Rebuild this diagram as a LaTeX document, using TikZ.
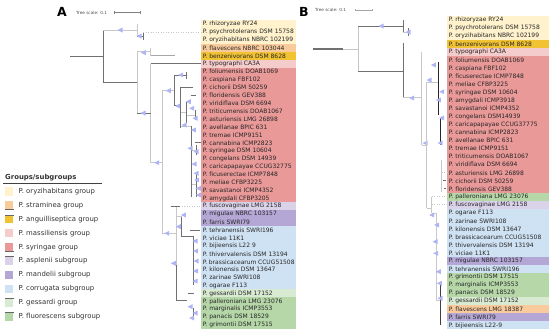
\documentclass[tikz,border=0pt]{standalone}
\usepackage{fontspec}
\setmainfont{DejaVu Sans}
\usepackage{tikz}
\usetikzlibrary{matrix,positioning}
\definecolor{grpory}{HTML}{FFF2CC}
\definecolor{grpstr}{HTML}{F9CB9C}
\definecolor{grpang}{HTML}{F1C232}
\definecolor{grpmas}{HTML}{F4CCCC}
\definecolor{grpsyr}{HTML}{EA9999}
\definecolor{grpasp}{HTML}{D9D2E9}
\definecolor{grpman}{HTML}{B4A7D6}
\definecolor{grpcor}{HTML}{CFE2F3}
\definecolor{grpges}{HTML}{D9EAD3}
\definecolor{grpflu}{HTML}{B6D7A8}
\definecolor{brdark}{HTML}{707070}
\definecolor{brlight}{HTML}{C8C8C8}
\definecolor{bootblue}{HTML}{AFB4F4}
\newcommand{\bootmark}[2]{\fill[boot] (#1,#2) ++(-2.5,0) -- ++(5,-2.5) -- ++(0,5) -- cycle;}

\begin{document}
\begin{tikzpicture}[x=1pt, y=-1pt,
  lab/.style={anchor=west, inner xsep=1.6pt, inner ysep=0pt,
              text=black!85, font=\fontsize{6.0}{6.5}\selectfont},
  labcol/.style n args={2}{lab, minimum height=#1,
                 execute at begin node=\hbox to #2\bgroup,
                 execute at end node=\hfil\egroup},
  legbox/.style={minimum width=8.3pt, minimum height=8.3pt, inner sep=0pt},
  legtext/.style={anchor=west, inner sep=0pt, text=black!80,
                  font=\fontsize{6.9}{8}\selectfont},
  legedge/.style={draw=black!60, line width=0.6pt},
  branch/.style={draw=brdark, line width=0.7pt},
  faint/.style={draw=brlight, line width=0.5pt},
  guide/.style={draw=brlight, line width=0.5pt, dotted},
  boot/.style={fill=bootblue},
  panel/.style={font=\fontsize{12.5}{14}\selectfont\bfseries, inner sep=0pt},
  scaletext/.style={anchor=west, inner sep=0pt, text=black!70,
                    font=\fontsize{4.2}{5}\selectfont},
  scalebar/.style={draw=black!50, line width=0.4pt},
]
  \useasboundingbox (0,0) rectangle (550,335);

  % Panel A: label column.
  \node[panel] (panel-a) at (62,12) {A};
  \node[scaletext] (scale-a) at (76,12.5) {Tree scale: 0.1};
  \draw[scalebar] (114,12.5) -- (140,12.5) (114,11) -- (114,14) (140,11) -- (140,14);
  \matrix (alabels) [matrix of nodes, nodes={labcol={7.92pt}{91.8pt}},
                     row sep=0pt, inner sep=0pt, anchor=north west] at (201,20) {
    |[fill=grpory]| P. rhizoryzae RY24 \\
    |[fill=grpory]| P. psychrotolerans DSM 15758 \\
    |[fill=grpory]| P. oryzihabitans NBRC 102199 \\
    |[fill=grpstr]| P. flavescens NBRC 103044 \\
    |[fill=grpang]| P. benzenivorans DSM 8628 \\
    |[fill=grpmas]| P. typographi CA3A \\
    |[fill=grpsyr]| P. foliumensis DOAB1069 \\
    |[fill=grpsyr]| P. caspiana FBF102 \\
    |[fill=grpsyr]| P. cichorii DSM 50259 \\
    |[fill=grpsyr]| P. floridensis GEV388 \\
    |[fill=grpsyr]| P. viridiflava DSM 6694 \\
    |[fill=grpsyr]| P. triticumensis DOAB1067 \\
    |[fill=grpsyr]| P. asturiensis LMG 26898 \\
    |[fill=grpsyr]| P. avellanae BPIC 631 \\
    |[fill=grpsyr]| P. tremae ICMP9151 \\
    |[fill=grpsyr]| P. cannabina ICMP2823 \\
    |[fill=grpsyr]| P. syringae DSM 10604 \\
    |[fill=grpsyr]| P. congelans DSM 14939 \\
    |[fill=grpsyr]| P. caricapapayae CCUG32775 \\
    |[fill=grpsyr]| P. ficuserectae ICMP7848 \\
    |[fill=grpsyr]| P. meliae CFBP3225 \\
    |[fill=grpsyr]| P. savastanoi ICMP4352 \\
    |[fill=grpsyr]| P. amygdali CFBP3205 \\
    |[fill=grpasp]| P. fuscovaginae LMG 2158 \\
    |[fill=grpman]| P. migulae NBRC 103157 \\
    |[fill=grpman]| P. farris SWRI79 \\
    |[fill=grpcor]| P. tehranensis SWRI196 \\
    |[fill=grpcor]| P. viciae 11K1 \\
    |[fill=grpcor]| P. bijieensis L22 9 \\
    |[fill=grpcor]| P. thivervalensis DSM 13194 \\
    |[fill=grpcor]| P. brassicacearum CCUG51508 \\
    |[fill=grpcor]| P. kilonensis DSM 13647 \\
    |[fill=grpcor]| P. zarinae SWRI108 \\
    |[fill=grpcor]| P. ogarae F113 \\
    |[fill=grpges]| P. gessardii DSM 17152 \\
    |[fill=grpflu]| P. palleroniana LMG 23076 \\
    |[fill=grpflu]| P. marginalis ICMP3553 \\
    |[fill=grpflu]| P. panacis DSM 18529 \\
    |[fill=grpflu]| P. grimontii DSM 17515 \\
  };

  % Panel A: tree, outgroups.
  \draw[branch] (70,56) -- (103,56) (103,30) -- (103,82) (103,82) -- (137,82);
  \draw[faint] (103,30) -- (137,30) (137,24) -- (137,36) (137,51) -- (137,113)
               (137,51) -- (150,51) (150,47.8) -- (150,55.7) (150,63.6) -- (150,162);
  \draw[branch] (137,36) -- (143,36) (143,32) -- (143,40);
  \draw[guide] (143,31.9) -- (201,31.9);
  \draw[branch, draw=black!35] (150.7,55.7) -- (175,55.7);
  \draw[branch] (150.7,63.6) -- (201,63.6) (137,113) -- (150.7,113);
  \bootmark{120}{30} \bootmark{139}{36} \bootmark{143.3}{52.7} \bootmark{143}{113}

  % Panel A: tree, syringae group.
  \draw[faint] (150,162) -- (162.3,162) (162.3,90.7) -- (162.3,233) (162.3,90.7) -- (174.3,90.7)
               (180.7,112) -- (186.7,112) (180.7,126) -- (191.7,126) (186.7,115) -- (195,115)
               (191.7,150) -- (196.7,150) (191.7,184) -- (196.7,184);
  \draw[branch] (174.3,75) -- (174.3,105) (174.3,75) -- (186.7,75) (186.7,71.5) -- (186.7,79.4)
                (174.3,105) -- (180.7,105) (180.7,87.4) -- (180.7,128.3) (180.7,87.4) -- (193.3,87.4)
                (191,95.3) -- (195.7,95.3) (186.7,101.7) -- (186.7,123.3) (195,110) -- (195,120)
                (191.7,126) -- (191.7,160) (195,142.8) -- (201,142.8) (196.7,145) -- (196.7,155)
                (191.7,148) -- (191.7,196.7) (196.7,171.7) -- (196.7,196.7);
  \bootmark{156.7}{162.7} \bootmark{168.3}{90.7} \bootmark{180.7}{75} \bootmark{177.7}{106}
  \bootmark{188.3}{101.7} \bootmark{191.7}{108.3} \bootmark{195}{118.3} \bootmark{184}{125}
  \bootmark{193.3}{130} \bootmark{190}{148.3} \bootmark{196}{151.7} \bootmark{194}{164}
  \bootmark{196}{173.3} \bootmark{196.7}{180} \bootmark{198.3}{188.3} \bootmark{198.3}{195}

  % Panel A: tree, fluorescens lineages.
  \draw[faint] (162.3,233) -- (176,233) (176,206.2) -- (176,300) (176,216.7) -- (181.7,216.7);
  \draw[branch] (170.7,206.2) -- (180,206.2) (181.7,216.7) -- (181.7,236.7)
                (181.7,236.7) -- (193.5,236.7) (190,229.9) -- (200,229.9) (193.5,236.7) -- (193.5,285)
                (188.3,293.3) -- (194,293.3) (176,265) -- (176,300) (176,300) -- (186.7,300)
                (193.3,308) -- (193.3,320);
  \draw[guide] (181.7,206.2) -- (201,206.2);
  \bootmark{166.7}{233.3} \bootmark{183.3}{215} \bootmark{178.3}{226.7} \bootmark{173.3}{263.3}
  \bootmark{195}{241} \bootmark{195.5}{251} \bootmark{196}{261} \bootmark{195.5}{271}
  \bootmark{195}{281} \bootmark{190}{306.7} \bootmark{195}{313} \bootmark{191.7}{318}

  % Legend.
  \node[legtext, font=\fontsize{6.9}{8}\selectfont\bfseries] (legtitle) at (5,177.3) {Groups/subgroups};
  \draw[draw=black!75, line width=0.6pt] (3,183) -- (102,183);
  \node[legbox, fill=grpory] (sw-ory) at (9.2,191.5) {};
  \node[legbox, fill=grpstr, below=5.2pt of sw-ory] (sw-str) {};
  \node[legbox, fill=grpang, below=5.2pt of sw-str] (sw-ang) {};
  \node[legbox, fill=grpmas, below=5.2pt of sw-ang] (sw-mas) {};
  \node[legbox, fill=grpsyr, below=5.2pt of sw-mas] (sw-syr) {};
  \node[legbox, fill=grpasp, below=5.2pt of sw-syr] (sw-asp) {};
  \node[legbox, fill=grpman, below=5.2pt of sw-asp] (sw-man) {};
  \node[legbox, fill=grpcor, below=5.2pt of sw-man] (sw-cor) {};
  \node[legbox, fill=grpges, below=5.2pt of sw-cor] (sw-ges) {};
  \node[legbox, fill=grpflu, below=5.2pt of sw-ges] (sw-flu) {};
  \draw[legedge] (sw-str.south west) -- (sw-str.south east) (sw-ang.north west) -- (sw-ang.north east)
                 (sw-syr.south west) -- (sw-syr.south east) (sw-asp.north west) -- (sw-asp.north east)
                 (sw-ges.north west) -- (sw-ges.north east) (sw-flu.north west) -- (sw-flu.north east);
  \node[legtext, right=5pt of sw-ory] (lg-ory) {P. oryzihabitans group};
  \node[legtext, right=5pt of sw-str] (lg-str) {P. straminea group};
  \node[legtext, right=5pt of sw-ang] (lg-ang) {P. anguilliseptica group};
  \node[legtext, right=5pt of sw-mas] (lg-mas) {P. massiliensis group};
  \node[legtext, right=5pt of sw-syr] (lg-syr) {P. syringae group};
  \node[legtext, right=5pt of sw-asp] (lg-asp) {P. asplenii subgroup};
  \node[legtext, right=5pt of sw-man] (lg-man) {P. mandelii subgroup};
  \node[legtext, right=5pt of sw-cor] (lg-cor) {P. corrugata subgroup};
  \node[legtext, right=5pt of sw-ges] (lg-ges) {P. gessardi group};
  \node[legtext, right=5pt of sw-flu] (lg-flu) {P. fluorescens subgroup};

  % Panel B: label column.
  \node[panel] (panel-b) at (304,12) {B};
  \node[scaletext] (scale-b) at (315,10) {Tree scale: 0.1};
  \draw[scalebar, draw=black!35] (355,10) -- (372,10) (355,9) -- (355,11) (372,9) -- (372,11);
  \matrix (blabels) [matrix of nodes, nodes={labcol={8.03pt}{98.8pt}},
                     row sep=0pt, inner sep=0pt, anchor=north west] at (447,16) {
    |[fill=grpory]| P. rhizoryzae RY24 \\
    |[fill=grpory]| P. psychrotolerans DSM 15758 \\
    |[fill=grpory]| P. oryzihabitans NBRC 102199 \\
    |[fill=grpang]| P. benzenivorans DSM 8628 \\
    |[fill=grpmas]| P. typographi CA3A \\
    |[fill=grpsyr]| P. foliumensis DOAB1069 \\
    |[fill=grpsyr]| P. caspiana FBF102 \\
    |[fill=grpsyr]| P. ficuserectae ICMP7848 \\
    |[fill=grpsyr]| P. meliae CFBP3225 \\
    |[fill=grpsyr]| P. syringae DSM 10604 \\
    |[fill=grpsyr]| P. amygdali ICMP3918 \\
    |[fill=grpsyr]| P. savastanoi ICMP4352 \\
    |[fill=grpsyr]| P. congelans DSM14939 \\
    |[fill=grpsyr]| P. caricapapayae CCUG37775 \\
    |[fill=grpsyr]| P. cannabina ICMP2823 \\
    |[fill=grpsyr]| P. avellanae BPIC 631 \\
    |[fill=grpsyr]| P. tremae ICMP9151 \\
    |[fill=grpsyr]| P. triticumensis DOAB1067 \\
    |[fill=grpsyr]| P. viridiflava DSM 6694 \\
    |[fill=grpsyr]| P. asturiensis LMG 26898 \\
    |[fill=grpsyr]| P. cichorii DSM 50259 \\
    |[fill=grpsyr]| P. floridensis GEV388 \\
    |[fill=grpflu]| P. palleroniana LMG 23076 \\
    |[fill=grpasp]| P. fuscovaginae LMG 2158 \\
    |[fill=grpcor]| P. ogarae F113 \\
    |[fill=grpcor]| P. zarinae SWRI108 \\
    |[fill=grpcor]| P. kilonensis DSM 13647 \\
    |[fill=grpcor]| P. brassicacearum CCUG51508 \\
    |[fill=grpcor]| P. thivervalensis DSM 13194 \\
    |[fill=grpcor]| P. viciae 11K1 \\
    |[fill=grpman]| P. migulae NBRC 103157 \\
    |[fill=grpcor]| P. tehranensis SWRI196 \\
    |[fill=grpflu]| P. grimontii DSM 17515 \\
    |[fill=grpflu]| P. marginalis ICMP3553 \\
    |[fill=grpflu]| P. panacis DSM 18529 \\
    |[fill=grpges]| P. gessardii DSM 17152 \\
    |[fill=grpstr]| P. flavescens LMG 18387 \\
    |[fill=grpman]| P. farris SWRI79 \\
    |[fill=grpcor]| P. bijieensis L22-9 \\
  };

  % Panel B: tree, outgroups.
  \draw[branch, line width=1.1pt] (313,49) -- (343,49);
  \draw[faint] (343,49) -- (358,49) (358,26) -- (358,71) (403,32) -- (408,32)
               (403,97) -- (421.7,97) (421.7,52) -- (421.7,145) (421.7,145) -- (426.7,145);
  \draw[branch] (358,26) -- (403,26) (403,20) -- (403,32) (408,28) -- (408,36)
                (358,71) -- (403,71) (403,43) -- (403,97);
  \bootmark{381}{26} \bootmark{408}{32} \bootmark{411.7}{98} \bootmark{425}{143}

  % Panel B: tree, syringae group.
  \draw[faint] (426.7,82) -- (426.7,208) (426.7,82) -- (438.3,82) (441.7,160) -- (441.7,192);
  \draw[branch, draw=black!85] (438.3,62) -- (438.3,115) (440,118) -- (440,145);
  \draw[branch] (442.7,180.6) -- (445.7,180.6) (444,188.6) -- (446,188.6);
  \draw[guide] (441.7,172.6) -- (447,172.6);
  \bootmark{429}{80} \bootmark{433.3}{65} \bootmark{441.7}{91.7} \bootmark{438.3}{100}
  \bootmark{441.7}{118} \bootmark{440}{143}

  % Panel B: tree, fluorescens lineages.
  \draw[faint] (426.7,208) -- (431.7,208) (431.7,196.7) -- (431.7,213) (431.7,213) -- (436,213)
               (436,213) -- (436,300) (436,300) -- (440.7,300);
  \draw[guide] (431.7,196.7) -- (447,196.7) (431.7,204.7) -- (447,204.7);
  \draw[branch, draw=black!75] (440.7,285) -- (440.7,325);
  \bootmark{431.7}{215} \bootmark{436.7}{225} \bootmark{435}{241.7} \bootmark{435.7}{253.3}
  \bootmark{438.3}{271.7} \bootmark{439.3}{283.3} \bootmark{440}{298.3}
\end{tikzpicture}
\end{document}
